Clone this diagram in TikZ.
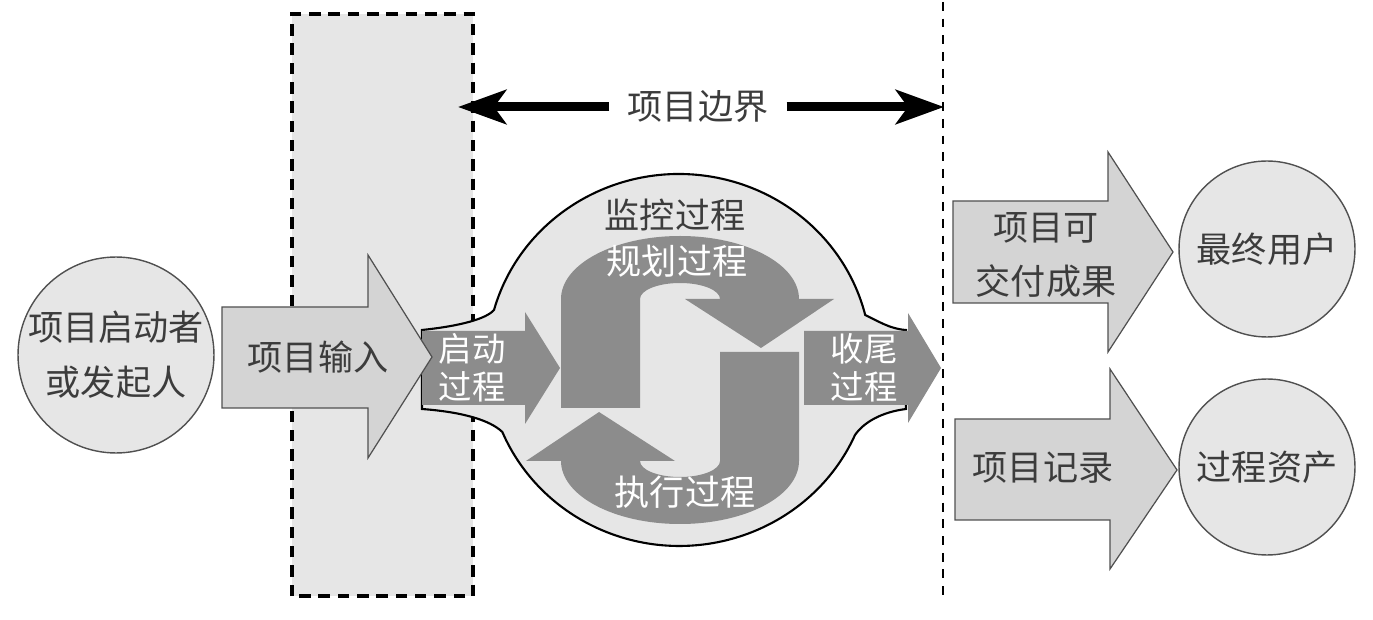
\documentclass[tikz,border=0pt]{standalone}
\usepackage{fontspec}
\newfontfamily\cjkfont{Noto Sans CJK SC}
\usetikzlibrary{arrows.meta}

\definecolor{boxgray}{HTML}{E6E6E6}
\definecolor{arrowgray}{HTML}{D4D4D4}
\definecolor{cyclegray}{HTML}{8C8C8C}
\definecolor{edgegray}{HTML}{505050}
\definecolor{textgray}{HTML}{3C3C3C}

\tikzset{
  lbl/.style={font=\cjkfont\fontsize{20}{31}\selectfont, text=textgray, align=center, inner sep=0pt},
  whitelbl/.style={lbl, text=white},
  steplbl/.style={lbl, text=white, font=\cjkfont\fontsize{19}{21.6}\selectfont},
  lightarrow/.style={fill=arrowgray, draw=edgegray, line width=0.7pt},
  darkarrow/.style={fill=cyclegray},
  party/.style={circle, fill=boxgray, draw=edgegray, line width=0.8pt, inner sep=0pt},
  bnd/.style={line width=0.18cm, -{Stealth[length=0.96cm, width=0.68cm, inset=0.24cm]}},
}

\begin{document}
\begin{tikzpicture}[x=0.02cm, y=0.02cm]
    \useasboundingbox (0,0) rectangle (1373,619);

    % project input zone and boundary line
    \draw[fill=boxgray, line width=1.8pt, dash pattern=on 6.5pt off 4.5pt] (292,23) rectangle (473,605);
    \coordinate (edgeTop) at (943,617);
    \coordinate (edgeBot) at (943,23);
    \draw[line width=1.5pt, dash pattern=on 5pt off 4.5pt] (edgeTop) -- (edgeBot);

    % process blob
    \draw[fill=boxgray, line width=1.2pt]
    (422,289) .. controls (460,293) and (486,300) .. (494,309)
    arc[start angle=164.4, end angle=14, x radius=192, y radius=186]
    .. controls (878,298) and (890,290) .. (906,289)
    -- (906,210)
    .. controls (882,207) and (864,197) .. (855,184)
    arc[start angle=-23.8, end angle=-157.2, x radius=192, y radius=186]
    .. controls (490,199) and (462,207) .. (422,210) -- cycle;

    \fill[darkarrow] (422,214) -- (525,214) -- (525,195) -- (560,251) -- (525,307) -- (525,288) -- (422,288) -- cycle;
    \fill[darkarrow] (804,214) -- (908,214) -- (908,196) -- (941,251) -- (908,306) -- (908,288) -- (804,288) -- cycle;

    \foreach \ang in {0,180}
      \fill[darkarrow, rotate around={\ang:(680,239)}]
      (561,211) -- (561,320) arc[start angle=180, end angle=0, x radius=119, y radius=63]
      -- (834,320) -- (761,271) -- (685,320) -- (720,320)
      arc[start angle=0, end angle=180, x radius=40, y radius=16] -- (640,211) -- cycle;

    % outside arrows
    \draw[lightarrow] (222,211) -- (368,211) -- (368,161) -- (432,262) -- (368,364) -- (368,312) -- (222,312) -- cycle;
    \draw[lightarrow] (953,316) -- (1108,316) -- (1108,267) -- (1173,367) -- (1108,467) -- (1108,418) -- (953,418) -- cycle;
    \draw[lightarrow] (955,99) -- (1110,99) -- (1110,50) -- (1177,149) -- (1110,250) -- (1110,200) -- (955,200) -- cycle;

    \node[party, minimum size=3.92cm] (starter) at (116,264) {};
    \node[party, minimum size=3.52cm] (users) at (1267,370) {};
    \node[party, minimum size=3.52cm] (assets) at (1267,152) {};

    % labels
    \node[lbl] (startertxt) at (starter.center) {项目启动者\\或发起人};
    \node[lbl] (inputtxt) at (318,262) {项目输入};
    \node[steplbl] (inittxt) at (472,251) {启动\\过程};
    \node[steplbl] (closetxt) at (864,251) {收尾\\过程};
    \node[lbl] (monitortxt) at (675,404) {监控过程};
    \node[whitelbl] (plantxt) at (677,358) {规划过程};
    \node[whitelbl] (exectxt) at (685,127) {执行过程};
    \node[lbl] (delivtxt) at (1046,364) {项目可\\交付成果};
    \node[lbl] (recordtxt) at (1043,151) {项目记录};
    \node[lbl] (userstxt) at (users.center) {最终用户};
    \node[lbl] (assetstxt) at (assets.center) {过程资产};

    % project boundary
    \node[lbl, inner xsep=0.36cm] (bndlbl) at (698,512) {项目边界};
    \coordinate (bndL) at (458,512);
    \coordinate (bndR) at (944,512);
    \path[bnd]
    (bndlbl) edge (bndL)
    (bndlbl) edge (bndR);

\end{tikzpicture}
\end{document}
